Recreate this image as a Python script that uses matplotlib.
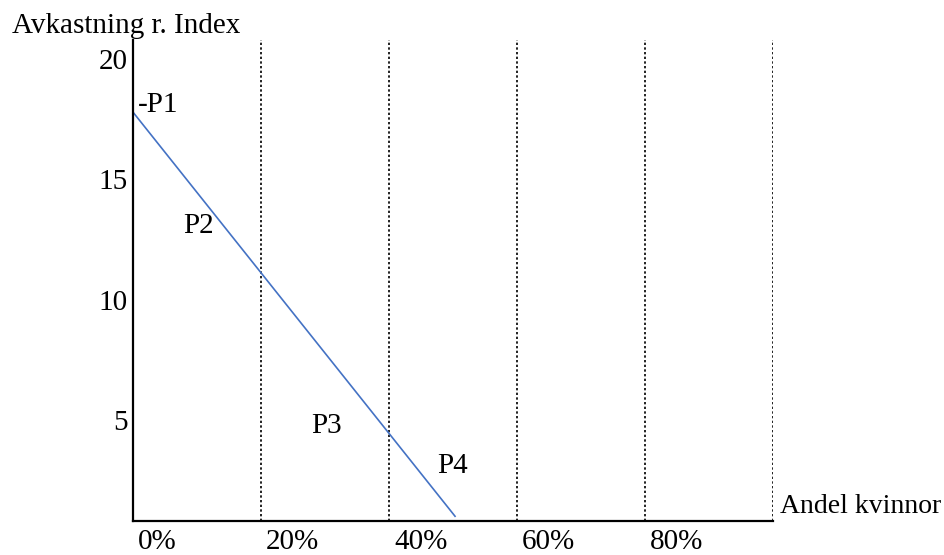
import matplotlib
matplotlib.use('Agg')
import matplotlib.pyplot as plt
from matplotlib.transforms import offset_copy

plt.rcParams['font.family'] = ['Liberation Serif', 'DejaVu Serif']

# data
line_x = [0, 50.4]
line_y = [17.0, 0.17]
grid_x = [20, 40, 60, 80, 100]
x_ticks = [0, 20, 40, 60, 80]
x_labels = ['0%', '20%', '40%', '60%', '80%']
y_ticks = [5, 10, 15, 20]
y_labels = ['5', '10', '15', '20']
point_labels = ['-P1', 'P2', 'P3', 'P4']
point_x = [0.8, 7.8, 27.9, 47.6]
point_y = [17.0, 11.98, 3.66, 2.0]

FS = 21

fig = plt.figure(figsize=(9.44, 5.55), dpi=100)
fig.set_facecolor('white')
ax = fig.add_axes([133 / 944, 1 - 521 / 555, (773 - 133) / 944, (521 - 40) / 555])

ax.set_xlim(0, 100)
ax.set_ylim(0, 20)

# vertical dotted lines
ax.vlines(grid_x, 0, 20, colors='#222222', linestyles=(0, (1.2, 1.2)), linewidth=1.4)

# main line
ax.plot(line_x, line_y, color='#4472C4', linewidth=1.2, solid_capstyle='butt')

# labels on the line
for lab, px, py in zip(point_labels, point_x, point_y):
    ax.text(px, py, lab, fontsize=FS, ha='left', va='baseline')

# spines
for side in ['top', 'right']:
    ax.spines[side].set_visible(False)
for side in ['left', 'bottom']:
    ax.spines[side].set_linewidth(1.6)
ax.set_xticks([])
ax.set_yticks([])

# tick labels, shifted like the original
xt_trans = offset_copy(ax.get_xaxis_transform(), fig=fig, x=5, y=-28, units='dots')
for t, lab in zip(x_ticks, x_labels):
    ax.text(t, 0, lab, transform=xt_trans, fontsize=FS, ha='left', va='baseline')

yt_trans = offset_copy(ax.get_yaxis_transform(), fig=fig, x=-5, y=-22, units='dots')
for t, lab in zip(y_ticks, y_labels):
    ax.text(0, t, lab, transform=yt_trans, fontsize=FS, ha='right', va='center')

# axis titles
fig.text(12 / 944, 1 - 33 / 555, 'Avkastning r. Index', fontsize=FS, ha='left', va='baseline')
ax.text(101.1, 0.33, 'Andel kvinnor', fontsize=20, ha='left', va='baseline', clip_on=False)

plt.savefig('out.png', dpi=100, facecolor='white')
